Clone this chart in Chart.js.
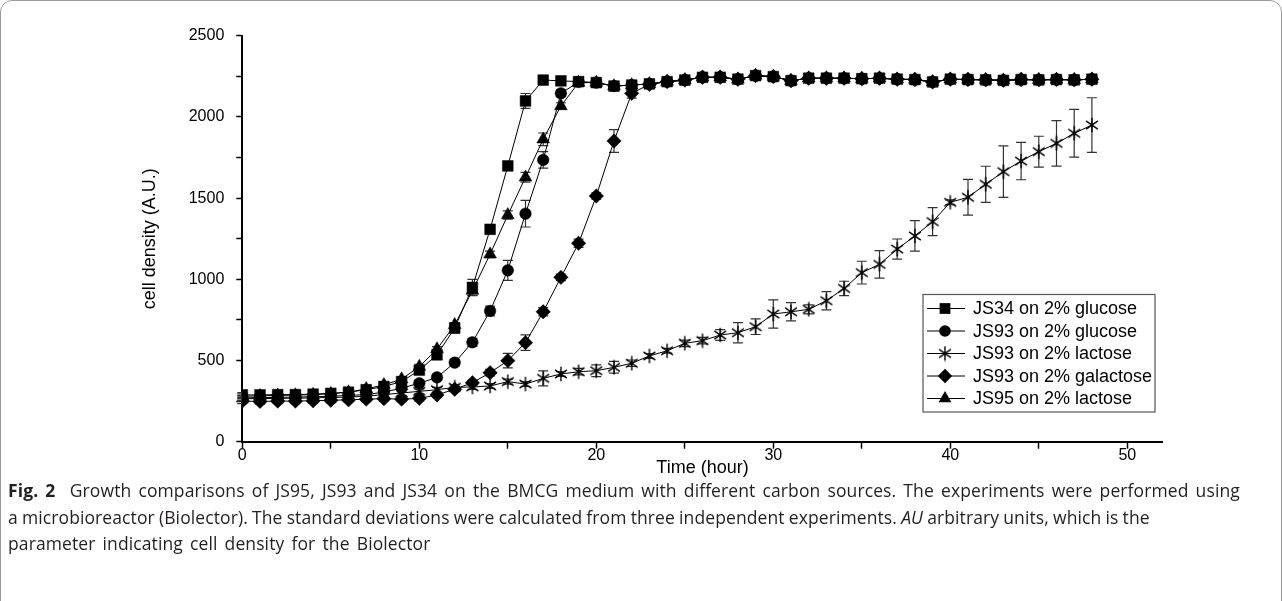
<!DOCTYPE html>
<html>
<head>
<meta charset="utf-8">
<script src="https://cdn.jsdelivr.net/npm/chart.js@4.4.0/dist/chart.umd.min.js"></script>
<style>
html, body { margin: 0; padding: 0; background: #fff; }
body { width: 1282px; height: 601px; overflow: hidden; position: relative; }
#frame { position: absolute; left: 0; top: 0; width: 1280px; height: 640px; border: 1px solid #9c9c9c; border-radius: 12px; }
#chart { position: absolute; left: 0; top: 0; }
#caption { position: absolute; left: 8px; top: 477px; font-family: 'Open Sans', sans-serif; font-size: 17.5px; line-height: 26.5px; color: #231f20; white-space: nowrap; letter-spacing: 0.1px; }
#caption span { display: inline-block; }
</style>
</head>
<body>
<div id="frame"></div>
<canvas id="chart" width="1282" height="485"></canvas>
<div id="caption"><span data-w="1254"><b>Fig. 2</b>&nbsp; Growth comparisons of JS95, JS93 and JS34 on the BMCG medium with different carbon sources. The experiments were performed using</span><br><span data-w="1112">a microbioreactor (Biolector). The standard deviations were calculated from three independent experiments. <i>AU</i> arbitrary units, which is the</span><br><span data-w="494">parameter indicating cell density for the Biolector</span></div>
<script>
// time points (hour)
const hours = [0,1,2,3,4,5,6,7,8,9,10,11,12,13,14,15,16,17,18,19,20,21,22,23,24,25,26,27,28,29,30,31,32,33,34,35,36,37,38,39,40,41,42,43,44,45,46,47,48];

const seriesNames = ['JS34 on 2% glucose', 'JS93 on 2% glucose', 'JS93 on 2% lactose', 'JS93 on 2% galactose', 'JS95 on 2% lactose'];

// cell density (A.U.)
const js34Glucose = [288,288,290,290,293,298,305,320,340,370,440,535,700,950,1308,1698,2098,2227,2222,2217,2211,2190,2196,2203,2217,2227,2244,2244,2232,2254,2248,2223,2238,2238,2238,2235,2238,2232,2230,2215,2232,2230,2228,2225,2230,2228,2230,2228,2232];
const js93Glucose = [270,272,273,275,277,280,285,290,305,330,360,396,487,612,805,1055,1404,1735,2145,2215,2211,2190,2196,2203,2217,2227,2244,2244,2232,2254,2248,2223,2238,2238,2238,2235,2238,2232,2230,2215,2232,2230,2228,2225,2230,2228,2230,2228,2232];
const js93Lactose = [265,265,267,268,270,272,275,280,290,300,310,320,335,337,343,370,355,390,417,431,437,458,483,528,560,606,622,657,671,708,786,800,815,868,944,1041,1092,1186,1267,1355,1474,1505,1585,1663,1728,1786,1837,1899,1950];
const js93Galactose = [250,248,250,250,252,255,258,262,265,262,267,288,323,363,425,499,610,800,1012,1222,1513,1852,2145,2200,2217,2227,2244,2244,2232,2254,2248,2223,2238,2238,2238,2235,2238,2232,2230,2215,2232,2230,2228,2225,2230,2228,2230,2228,2232];
const js95Lactose = [280,282,285,287,290,295,305,325,350,385,462,570,719,930,1154,1396,1628,1862,2067,2211,2211,2190,2196,2203,2217,2227,2244,2244,2232,2254,2248,2223,2238,2238,2238,2235,2238,2232,2230,2215,2232,2230,2228,2225,2230,2228,2230,2228,2232];

// standard deviations
const js34GlucoseSd = [15,15,15,15,15,15,15,15,15,15,20,25,30,49,25,20,46,15,10,10,10,10,10,10,10,10,10,10,10,10,10,10,10,10,10,10,10,10,10,10,10,10,10,10,10,10,10,10,10];
const js93GlucoseSd = [15,15,15,15,15,15,15,15,15,15,15,15,20,25,30,62,82,51,20,10,10,10,10,10,10,10,10,10,10,10,10,10,10,10,10,10,10,10,10,10,10,10,10,10,10,10,10,10,10];
const js93LactoseSd = [15,15,15,15,15,15,15,15,15,15,15,15,15,15,15,15,15,46,15,20,36,36,20,15,15,20,20,33,62,48,87,56,28,56,44,70,85,62,94,86,15,110,111,159,115,95,140,147,168];
const js93GalactoseSd = [15,15,15,15,15,15,15,15,15,15,15,15,15,15,20,45,48,25,20,25,20,70,30,10,10,10,10,10,10,10,10,10,10,10,10,10,10,10,10,10,10,10,10,10,10,10,10,10,10];
const js95LactoseSd = [15,15,15,15,15,15,15,15,15,15,15,15,15,30,20,25,30,39,20,10,10,10,10,10,10,10,10,10,10,10,10,10,10,10,10,10,10,10,10,10,10,10,10,10,10,10,10,10,10];

const seriesValues = [js34Glucose, js93Glucose, js93Lactose, js93Galactose, js95Lactose];
const seriesSd = [js34GlucoseSd, js93GlucoseSd, js93LactoseSd, js93GalactoseSd, js95LactoseSd];

// widen the word gaps of each caption line a little, like the typeset figure
document.querySelectorAll('#caption span').forEach(s => {
  const gaps = s.textContent.split(' ').length - 1;
  let extra = (+s.dataset.w - s.getBoundingClientRect().width) / gaps;
  extra = Math.max(-0.5, Math.min(2.5, extra));
  s.style.wordSpacing = extra.toFixed(2) + 'px';
});

function makeStar(size) {
  const c = document.createElement('canvas');
  c.width = size; c.height = size;
  const g = c.getContext('2d');
  const m = size / 2, r = size / 2 - 0.8;
  g.strokeStyle = '#000';
  g.lineWidth = 1.4;
  g.beginPath();
  [90, 35, 145].forEach(a => {
    const t = a * Math.PI / 180;
    g.moveTo(m - r * Math.cos(t), m - r * Math.sin(t));
    g.lineTo(m + r * Math.cos(t), m + r * Math.sin(t));
  });
  g.stroke();
  g.beginPath();
  g.arc(m, m, 1.5, 0, Math.PI * 2);
  g.fillStyle = '#000';
  g.fill();
  return c;
}
const starImg = makeStar(16);

const markers = [
  { pointStyle: 'rect', radius: 7.6 },
  { pointStyle: 'circle', radius: 5.8 },
  { pointStyle: starImg, radius: 7 },
  { pointStyle: 'rectRot', radius: 7.2 },
  { pointStyle: 'triangle', radius: 7.4 }
];

const errorBars = {
  id: 'errorBars',
  beforeDatasetsDraw(chart) {
    const ctx = chart.ctx, xs = chart.scales.x, ys = chart.scales.y;
    ctx.save();
    ctx.strokeStyle = '#333';
    ctx.lineWidth = 1.2;
    chart.data.datasets.forEach(ds => {
      ds.data.forEach((p, i) => {
        const sd = ds.sd[i];
        const px = xs.getPixelForValue(p.x);
        const top = ys.getPixelForValue(p.y + sd), bot = ys.getPixelForValue(p.y - sd);
        ctx.beginPath();
        ctx.moveTo(px, top); ctx.lineTo(px, bot);
        ctx.moveTo(px - 5, top); ctx.lineTo(px + 5, top);
        ctx.moveTo(px - 5, bot); ctx.lineTo(px + 5, bot);
        ctx.stroke();
      });
    });
    ctx.restore();
  }
};

// line + marker legend in a box, like the original figure
const boxLegend = {
  id: 'boxLegend',
  afterDraw(chart) {
    const ctx = chart.ctx;
    const left = 923, top = 294.5, w = 232, rowH = 22.5;
    ctx.save();
    ctx.strokeStyle = '#555';
    ctx.lineWidth = 1.2;
    ctx.strokeRect(left, top, w, rowH * 5 + 5);
    ctx.font = '18px "Liberation Sans", Arial, sans-serif';
    ctx.textBaseline = 'middle';
    chart.data.datasets.forEach((ds, i) => {
      const y = top + 14 + i * rowH;
      ctx.strokeStyle = '#000';
      ctx.lineWidth = 1;
      ctx.beginPath();
      ctx.moveTo(left + 4, y); ctx.lineTo(left + 42, y);
      ctx.stroke();
      ctx.fillStyle = '#000';
      Chart.helpers.drawPoint(ctx, { pointStyle: markers[i].pointStyle, radius: markers[i].radius, rotation: 0, borderWidth: 0 }, left + 22, y);
      ctx.fillStyle = '#000';
      ctx.fillText(ds.label, left + 50, y + 1);
    });
    ctx.restore();
  }
};

const datasets = seriesNames.map((name, i) => ({
  label: name,
  data: hours.map((h, k) => ({ x: h, y: seriesValues[i][k] })),
  sd: seriesSd[i],
  showLine: true,
  borderColor: '#000',
  borderWidth: 1,
  backgroundColor: '#000',
  pointStyle: markers[i].pointStyle,
  pointRadius: markers[i].radius,
  pointBackgroundColor: '#000',
  pointBorderColor: '#000',
  pointBorderWidth: 0.5
}));

const ctx = document.getElementById('chart');
const chart = new Chart(ctx, {
  type: 'scatter',
  data: { datasets: datasets },
  plugins: [errorBars, boxLegend],
  options: {
    animation: false,
    responsive: false,
    devicePixelRatio: 1,
    layout: { padding: { left: 135, right: 119.3, top: 35.7, bottom: 2 } },
    plugins: {
      legend: { display: false },
      tooltip: { enabled: false }
    },
    scales: {
      x: {
        type: 'linear',
        min: 0,
        max: 52,
        afterFit: s => { s.height = 41.3; },
        border: { display: true, color: '#000', width: 2 },
        grid: { drawOnChartArea: false, drawTicks: true, tickLength: 7, tickColor: '#000', tickWidth: 1.5 },
        ticks: {
          stepSize: 5,
          includeBounds: false,
          maxRotation: 0,
          autoSkip: false,
          padding: -3,
          color: '#000',
          font: { family: '"Liberation Sans", Arial, sans-serif', size: 16 },
          callback: v => (v % 10 === 0 ? v : '')
        },
        title: {
          display: true,
          text: 'Time (hour)',
          color: '#000',
          padding: { top: 2, bottom: 4 },
          font: { family: '"Liberation Sans", Arial, sans-serif', size: 18 }
        }
      },
      y: {
        min: 0,
        max: 2500,
        afterFit: s => { s.width = 107.3; },
        border: { display: true, color: '#000', width: 2 },
        grid: { drawOnChartArea: false, drawTicks: true, tickLength: 6, tickColor: '#000', tickWidth: 1.5 },
        ticks: {
          stepSize: 250,
          padding: 12,
          color: '#000',
          font: { family: '"Liberation Sans", Arial, sans-serif', size: 16 },
          callback: v => (v % 500 === 0 ? v : '')
        },
        title: {
          display: true,
          text: 'cell density (A.U.)',
          color: '#000',
          padding: { top: 4, bottom: 4 },
          font: { family: '"Liberation Sans", Arial, sans-serif', size: 18 }
        }
      }
    }
  }
});
</script>
</body>
</html>
